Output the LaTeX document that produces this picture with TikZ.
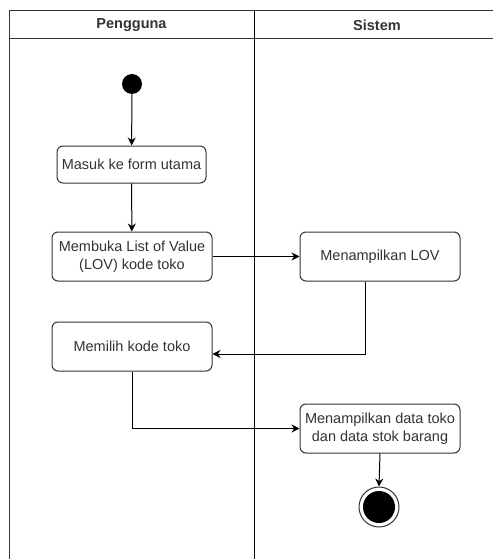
\documentclass[tikz,border=0pt]{standalone}
\usepackage{fontspec}
\setmainfont{Liberation Sans}
\usetikzlibrary{arrows.meta}
\definecolor{ln}{HTML}{333333}
\definecolor{tx}{HTML}{333333}
\begin{document}
\begin{tikzpicture}[x=1pt,y=-1pt,
  lane/.style={draw=ln,line width=1pt},
  hdr/.style={font=\fontsize{14.5}{17}\selectfont\bfseries,text=tx,inner sep=0pt},
  act/.style={draw=ln,line width=1pt,rounded corners=6pt,fill=white,align=center,
    font=\fontsize{14.5}{18.5}\selectfont,text=tx,inner sep=0pt},
  arr/.style={draw=black,line width=1pt,-{Stealth[length=8pt,width=8pt]}},
  startst/.style={circle,fill=black,minimum size=20pt,inner sep=0pt},
  endring/.style={circle,draw=ln,line width=1pt,minimum size=40pt,inner sep=0pt},
  enddot/.style={circle,fill=black,minimum size=32pt,inner sep=0pt}]
\useasboundingbox (0,0) rectangle (493,559);
% swimlanes
\draw[lane] (493,11) -- (9,11) -- (9,559);
\draw[lane] (9,39) -- (493,39);
\draw[draw=black,line width=1pt] (254,11) -- (254,559);
\node[hdr] (h1) at (131.5,25) {Pengguna};
\node[hdr] (h2) at (377,25) {Sistem};
% nodes
\node[startst] (s) at (132,84) {};
\node[act,minimum width=149pt,minimum height=37pt] (b1) at (131.5,164.5) {Masuk ke form utama};
\node[act,minimum width=160pt,minimum height=49pt] (b2) at (132,256.5) {Membuka List of Value\\(LOV) kode toko};
\node[act,minimum width=160pt,minimum height=49pt] (b3) at (380,256.5) {Menampilkan LOV};
\node[act,minimum width=160pt,minimum height=49pt] (b4) at (132,346.5) {Memilih kode toko};
\node[act,minimum width=160pt,minimum height=49pt] (b5) at (380,428.5) {Menampilkan data toko\\dan data stok barang};
\node[endring] (e) at (379,507) {};
\node[enddot] (ed) at (e) {};
% connectors
\draw[arr] (s) -- (b1);
\draw[arr] (b1) -- (b2);
\draw[arr] (b2) -- (b3);
\draw[arr] ([xshift=-15pt]b3.south) |- ([yshift=-7.5pt]b4.east);
\draw[arr] (b4.south) |- (b5.west);
\draw[arr] (b5.south) -- (e.north);
\end{tikzpicture}
\end{document}
